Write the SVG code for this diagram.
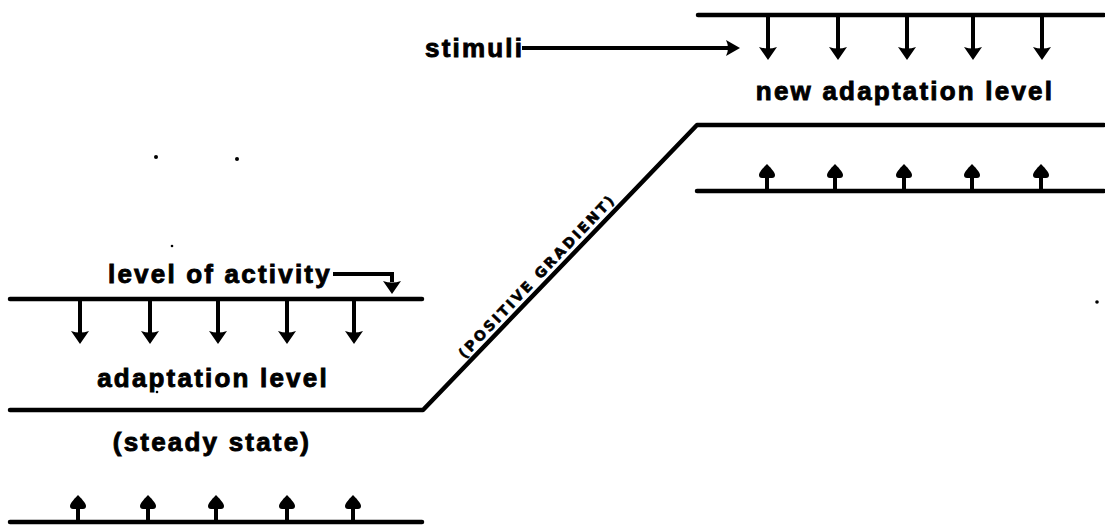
<svg xmlns="http://www.w3.org/2000/svg" width="1105" height="525" viewBox="0 0 1105 525">
  <style>
    .rule { fill: none; stroke: #000; stroke-width: 4.5; stroke-linecap: round; stroke-linejoin: round; }
    .stem { fill: none; stroke: #000; stroke-width: 4; stroke-linecap: butt; }
    .label { font-family: "Liberation Sans", Arial, sans-serif; font-weight: bold; font-size: 26px; letter-spacing: 2.2px; fill: #000; stroke: #000; stroke-width: 0.9px; }
    .hand { font-family: "DejaVu Sans", sans-serif; font-weight: bold; font-size: 14px; letter-spacing: 2.6px; fill: #000; stroke: #000; stroke-width: 0.6px; }
    .speck { fill: #000; }
  </style>
  <defs>
    <!-- filled head pointing down, tip at origin -->
    <path id="headDown" d="M-9,-12 Q0,-9 9,-12 L0,1 Z" fill="#000"/>
    <!-- rounded head pointing up, tip at origin -->
    <path id="headUp" d="M0,0 C-2,2 -8,8 -8,11 Q-8,14 -5,14 L5,14 Q8,14 8,11 C8,8 2,2 0,0 Z" fill="#000"/>
    <!-- head pointing right, tip at origin -->
    <path id="headRight" d="M-13,-8 L1,0 L-13,8 Q-9,0 -13,-8 Z" fill="#000"/>
    <!-- down arrow hanging from a rule -->
    <g id="arrowDown">
      <line class="stem" x1="0" y1="0" x2="0" y2="35"/>
      <use href="#headDown" y="44"/>
    </g>
    <!-- up arrow standing on a rule -->
    <g id="arrowUp">
      <line class="stem" x1="0" y1="0" x2="0" y2="-16"/>
      <use href="#headUp" y="-27"/>
    </g>
  </defs>

  <!-- level profile: steady state, rising gradient, new level -->
  <g id="connectors">
    <path id="profile" class="rule" d="M10,410 L423,410 L697,125 L1104,125"/>
  </g>

  <!-- upper right band: new adaptation level -->
  <g id="new-level">
    <line class="rule" x1="698" y1="15" x2="1104" y2="15"/>
    <line class="rule" x1="697" y1="191" x2="1104" y2="191"/>
    <use href="#arrowDown" x="768" y="15"/>
    <use href="#arrowDown" x="838" y="15"/>
    <use href="#arrowDown" x="907" y="15"/>
    <use href="#arrowDown" x="973" y="15"/>
    <use href="#arrowDown" x="1042" y="15"/>
    <use href="#arrowUp" x="767" y="191"/>
    <use href="#arrowUp" x="835" y="191"/>
    <use href="#arrowUp" x="904" y="191"/>
    <use href="#arrowUp" x="972" y="191"/>
    <use href="#arrowUp" x="1041" y="191"/>
    <text class="label" x="905" y="100" text-anchor="middle">new adaptation level</text>
  </g>

  <!-- stimuli pointer -->
  <g id="stimuli">
    <text class="label" x="425" y="57">stimuli</text>
    <line class="stem" x1="522" y1="48" x2="732" y2="48"/>
    <use href="#headRight" x="739" y="48"/>
  </g>

  <!-- lower left band: adaptation level (steady state) -->
  <g id="adaptation-level">
    <line class="rule" x1="10" y1="299" x2="422" y2="299"/>
    <line class="rule" x1="10" y1="522" x2="422" y2="522"/>
    <use href="#arrowDown" x="80" y="299"/>
    <use href="#arrowDown" x="150" y="299"/>
    <use href="#arrowDown" x="218" y="299"/>
    <use href="#arrowDown" x="287" y="299"/>
    <use href="#arrowDown" x="354" y="299"/>
    <use href="#arrowUp" x="78" y="522"/>
    <use href="#arrowUp" x="148" y="522"/>
    <use href="#arrowUp" x="216" y="522"/>
    <use href="#arrowUp" x="287" y="522"/>
    <use href="#arrowUp" x="353" y="522"/>
    <text class="label" x="213" y="387" text-anchor="middle">adaptation level</text>
    <text class="label" x="212" y="451" text-anchor="middle">(steady state)</text>
  </g>

  <!-- level of activity pointer -->
  <g id="activity">
    <text class="label" x="108" y="283">level of activity</text>
    <path class="stem" d="M333,274 H392 V282"/>
    <use href="#headDown" x="392" y="293"/>
  </g>

  <!-- hand lettering along the slope -->
  <g id="gradient-label">
    <text class="hand" transform="translate(537,276) rotate(-46.3)" x="0" y="5" text-anchor="middle">(POSITIVE GRADIENT)</text>
  </g>

  <!-- stray specks -->
  <g id="specks">
    <circle class="speck" cx="156" cy="157" r="2"/>
    <circle class="speck" cx="237" cy="159" r="2"/>
    <circle class="speck" cx="1097" cy="302" r="1.8"/>
    <circle class="speck" cx="172" cy="246" r="1.3"/>
    <circle class="speck" cx="157" cy="392" r="1.3"/>
  </g>
</svg>
